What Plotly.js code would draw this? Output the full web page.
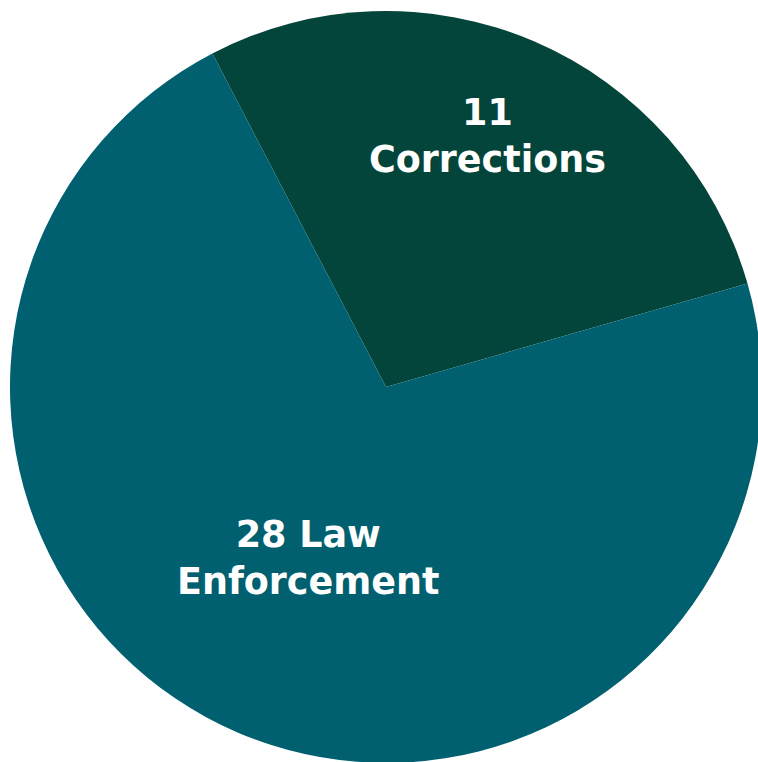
<!DOCTYPE html>
<html>
<head>
<meta charset="utf-8">
<script src="https://cdn.plot.ly/plotly-3.0.1.min.js"></script>
<style>
html,body{margin:0;padding:0;overflow:hidden;background:#fff;}
#chart{width:770px;height:770px;}
</style>
</head>
<body>
<div id="chart"></div>
<script>
const categories = ["Corrections", "Law Enforcement"];
const counts = [11, 28];
const labelTexts = ["11<br>Corrections", "28 Law<br>Enforcement"];
const sliceColors = ["#03453A", "#01606F"];

const W = 770, H = 770;
const cx = 386, cy = 387, R = 376;

const trace = {
  type: "pie",
  labels: categories,
  values: counts,
  sort: false,
  direction: "clockwise",
  rotation: -27.5,
  textinfo: "none",
  hoverinfo: "label+value",
  marker: { colors: sliceColors, line: { width: 0 } },
  domain: { x: [(cx - R) / W, (cx + R) / W], y: [(H - cy - R) / H, (H - cy + R) / H] },
  showlegend: false
};

const labelPos = [[487, 136], [308, 558]];
const annotations = labelTexts.map((t, i) => ({
  text: t,
  xref: "paper", yref: "paper",
  x: labelPos[i][0] / W, y: 1 - labelPos[i][1] / H,
  xanchor: "center", yanchor: "middle",
  align: "center",
  showarrow: false,
  font: { family: "'DejaVu Sans', sans-serif", size: 36.5, color: "#ffffff", weight: "bold" }
}));

Plotly.newPlot("chart", [trace], {
  width: W, height: H,
  margin: { l: 0, r: 0, t: 0, b: 0 },
  paper_bgcolor: "#ffffff",
  annotations: annotations
}, { displayModeBar: false, staticPlot: true });
</script>
</body>
</html>
